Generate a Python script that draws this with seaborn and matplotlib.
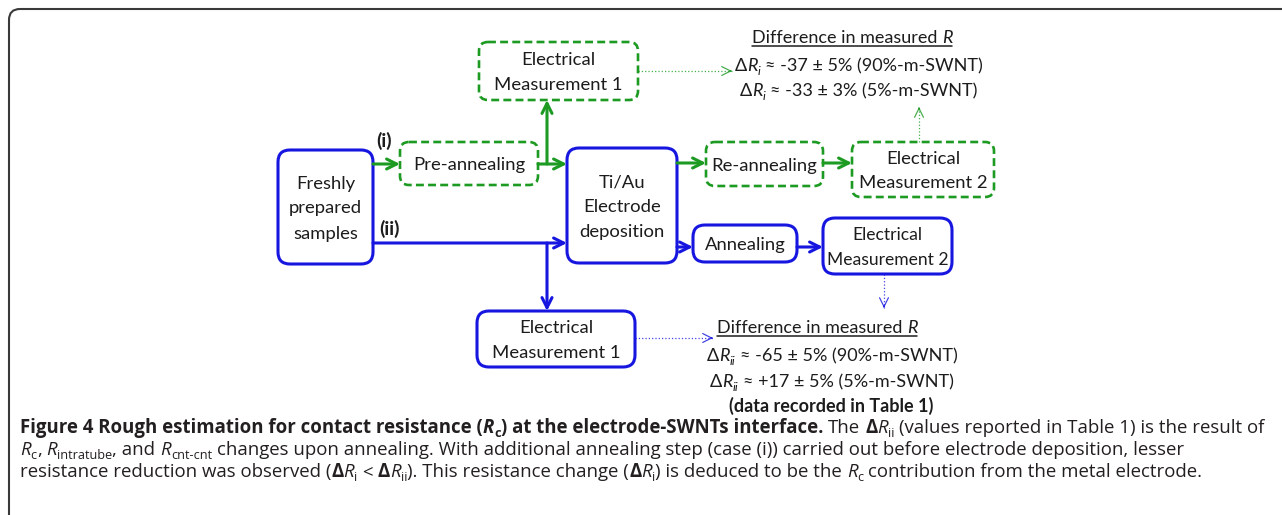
import matplotlib
matplotlib.use("Agg")
import matplotlib.pyplot as plt
from matplotlib.patches import FancyBboxPatch
from matplotlib.font_manager import FontProperties
import seaborn as sns

sns.set_theme(style="white")
plt.rcParams["font.family"] = ["Lato", "DejaVu Sans"]

GREEN = "#1c9a22"
BLUE = "#1616e0"
INK = "#1c1c1c"
DIAG_FONT = ["Lato", "DejaVu Sans"]
CAP_FONT = ["Open Sans", "DejaVu Sans"]

# flow chart boxes
box_text = [["Freshly", "prepared", "samples"], ["Pre-annealing"],
            ["Electrical", "Measurement 1"], ["Ti/Au", "Electrode", "deposition"],
            ["Re-annealing"], ["Electrical", "Measurement 2"], ["Annealing"],
            ["Electrical", "Measurement 2"], ["Electrical", "Measurement 1"]]
box_route = ["ii", "i", "i", "ii", "i", "i", "ii", "ii", "ii"]
box_xy = [(278, 150, 373, 264), (400, 142, 538, 185), (479, 42, 638, 100),
          (567, 148, 677, 263), (706, 142, 823, 186), (852, 142, 994, 197),
          (693, 225, 797, 262), (823, 218, 952, 274), (477, 311, 635, 367)]

# connectors
main_arrows = [((373, 164), (400, 164), "i"), ((538, 164), (567, 164), "i"),
               ((547, 164), (547, 100), "i"), ((677, 163), (706, 163), "i"),
               ((823, 163), (852, 163), "i"), ((373, 243), (567, 243), "ii"),
               ((547, 243), (547, 311), "ii"), ((677, 247), (693, 247), "ii"),
               ((797, 247), (823, 247), "ii")]
note_arrows = [((638, 71), (732, 71), "i"), ((919, 142), (919, 107), "i"),
               ((884, 274), (884, 308), "ii"), ((635, 338), (713, 338), "ii")]

res_i = ["-37 ± 5% (90%-m-SWNT)", "-33 ± 3% (5%-m-SWNT)"]
res_ii = ["-65 ± 5% (90%-m-SWNT)", "+17 ± 5% (5%-m-SWNT)"]

caption = [
    [("Figure 4 Rough estimation for contact resistance (", "b"), ("R", "bi"), ("c", "b_"),
     (") at the electrode-SWNTs interface.", "b"), (" The ", ""), ("Δ", "b"), ("R", "i"),
     ("ii", "_"), (" (values reported in Table 1) is the result of", "")],
    [("R", "i"), ("c", "_"), (", ", ""), ("R", "i"), ("intratube", "_"), (", and ", ""),
     ("R", "i"), ("cnt-cnt", "_"),
     (" changes upon annealing. With additional annealing step (case (i)) carried out before electrode deposition, lesser", "")],
    [("resistance reduction was observed (", ""), ("Δ", "b"), ("R", "i"), ("i", "_"),
     (" < ", ""), ("Δ", "b"), ("R", "i"), ("ii", "_"), ("). This resistance change (", ""),
     ("Δ", "b"), ("R", "i"), ("i", "_"), (") is deduced to be the ", ""), ("R", "i"),
     ("c", "_"), (" contribution from the metal electrode.", "")],
]

fig = plt.figure(figsize=(12.82, 5.15), dpi=100)
ax = fig.add_axes([0, 0, 1, 1])
ax.set_xlim(0, 1282)
ax.set_ylim(515, 0)
ax.axis("off")
rend = fig.canvas.get_renderer()


def _fp(style, size, family):
    sub = "_" in style
    return FontProperties(family=family, size=size * 0.68 if sub else size,
                          weight="bold" if "b" in style else "normal",
                          style="italic" if "i" in style else "normal")


def _w(s, fp):
    t = ax.text(0, 0, s, fontproperties=fp)
    w = t.get_window_extent(rend).width
    t.remove()
    return w


def runs(x, y, parts, size, family, color=INK, ha="left"):
    texts, cur = [], 0.0
    for text, style in parts:
        fp = _fp(style, size, family)
        sp = _w("x x", fp) - _w("xx", fp)
        core = text.strip(" ")
        cur += (len(text) - len(text.lstrip(" "))) * sp
        dy = size * 100 / 72 * 0.2 if "_" in style else 0
        t = ax.text(x + cur, y + dy, core, fontproperties=fp, color=color,
                    va="baseline", ha="left")
        texts.append(t)
        cur += t.get_window_extent(rend).width + (len(text) - len(text.rstrip(" "))) * sp
    if ha == "center":
        for t in texts:
            t.set_x(t.get_position()[0] - cur / 2)
    return texts, cur


# outer frame
ax.add_patch(FancyBboxPatch((9, 9), 1400, 600, boxstyle="round,pad=0,rounding_size=11",
                            fill=False, ec="#3a3a3a", lw=1.5))

# boxes
for lines, route, (x0, y0, x1, y1) in zip(box_text, box_route, box_xy):
    solid = route == "ii"
    ax.add_patch(FancyBboxPatch((x0, y0), x1 - x0, y1 - y0,
                                boxstyle=f"round,pad=0,rounding_size={12 if solid else 9}",
                                fill=False, ec=BLUE if solid else GREEN,
                                lw=2.2 if solid else 1.9,
                                ls="-" if solid else (0, (3, 1.6))))
    cx, cy = (x0 + x1) / 2, (y0 + y1) / 2
    fs = 13.3
    widest = max(_w(s, _fp("", fs, DIAG_FONT)) for s in lines)
    fs = min(fs, fs * (x1 - x0 - 7) / widest)
    n = len(lines)
    for k, line in enumerate(lines):
        ax.text(cx, cy + (k - (n - 1) / 2) * 25 + 6.5, line, ha="center", va="baseline",
                fontsize=fs, family=DIAG_FONT, color=INK)

# thick arrows
for (xs, ys), (xe, ye), route in main_arrows:
    ax.annotate("", xy=(xe, ye), xytext=(xs, ys),
                arrowprops=dict(arrowstyle="->", lw=2.2, color=GREEN if route == "i" else BLUE,
                                shrinkA=0, shrinkB=0, mutation_scale=18))

# thin dotted leaders
for (xs, ys), (xe, ye), route in note_arrows:
    col = GREEN if route == "i" else BLUE
    sns.lineplot(x=[xs, xe], y=[ys, ye], ax=ax, color=col, lw=0.9, ls=":", alpha=0.8,
                 sort=False, estimator=None)
    dx, dy = (xe - xs), (ye - ys)
    L = (dx ** 2 + dy ** 2) ** 0.5
    ax.annotate("", xy=(xe, ye), xytext=(xe - dx / L * 2, ye - dy / L * 2),
                arrowprops=dict(arrowstyle="->", lw=0.9, color=col, alpha=0.8,
                                shrinkA=0, shrinkB=0, mutation_scale=16))

# route labels
ax.text(384, 147, "(i)", ha="center", va="baseline", fontsize=14, weight="bold",
        family=DIAG_FONT, color=INK)
ax.text(390, 235, "(ii)", ha="center", va="baseline", fontsize=14, weight="bold",
        family=DIAG_FONT, color=INK)

# result blocks
RES = 13
head = [("Difference in measured ", ""), ("R", "i")]
_, w = runs(852, 43, head, RES, DIAG_FONT, ha="center")
ax.plot([852 - w / 2, 852 + w / 2], [46, 46], color=INK, lw=1.1)
for k, v in enumerate(res_i):
    runs(859, 71 + 25 * k, [("Δ", ""), ("R", "i"), ("i", "i_"), (" ≈ " + v, "")],
         RES, DIAG_FONT, ha="center")

_, w = runs(817, 333, head, RES, DIAG_FONT, ha="center")
ax.plot([817 - w / 2, 817 + w / 2], [336, 336], color=INK, lw=1.1)
for k, v in enumerate(res_ii):
    runs(832, 361 + 26 * k, [("Δ", ""), ("R", "i"), ("ii", "i_"), (" ≈ " + v, "")],
         RES, DIAG_FONT, ha="center")
ax.text(831, 412, "(data recorded in Table 1)", ha="center", va="baseline", fontsize=RES,
        weight="bold", family=DIAG_FONT, color=INK)

# caption, sized so the first line spans the frame
texts, w0 = runs(0, -100, caption[0], 12, CAP_FONT)
for t in texts:
    t.remove()
cap_size = 12 * 1242 / w0
for k, line in enumerate(caption):
    runs(20, 433 + 22 * k, line, cap_size, CAP_FONT, color="#231f20")

ax.set_xlim(0, 1282)
ax.set_ylim(515, 0)
ax.axis("off")
fig.savefig("out.png", dpi=100)
